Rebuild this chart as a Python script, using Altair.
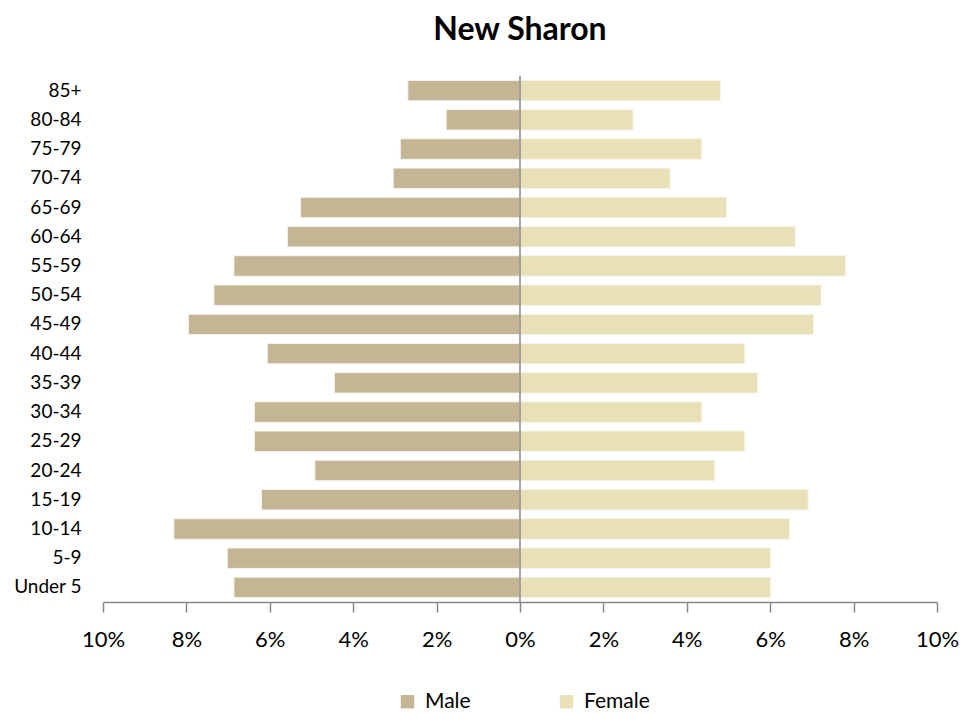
import altair as alt
import pandas as pd

ages = ["85+", "80-84", "75-79", "70-74", "65-69", "60-64", "55-59", "50-54", "45-49",
        "40-44", "35-39", "30-34", "25-29", "20-24", "15-19", "10-14", "5-9", "Under 5"]
male = [2.69, 1.77, 2.87, 3.04, 5.26, 5.58, 6.86, 7.34, 7.95,
        6.06, 4.45, 6.37, 6.37, 4.92, 6.20, 8.30, 7.02, 6.86]
female = [4.81, 2.71, 4.36, 3.60, 4.95, 6.60, 7.81, 7.22, 7.04,
          5.39, 5.70, 4.36, 5.39, 4.67, 6.91, 6.46, 6.01, 6.01]
x_ticks = [-10, -8, -6, -4, -2, 0, 2, 4, 6, 8, 10]

rows = []
for a, m, f in zip(ages, male, female):
    rows.append({"age": a, "sex": "Male", "value": -m})
    rows.append({"age": a, "sex": "Female", "value": f})
df = pd.DataFrame(rows)

FONT = "Lato"

bars = alt.Chart(df).mark_bar(stroke="#f7f4ea", strokeWidth=1).encode(
    y=alt.Y("age:N", sort=ages, title=None,
            scale=alt.Scale(paddingInner=0.3, paddingOuter=0.15),
            axis=alt.Axis(domain=False, ticks=False, labelFontSize=19, labelFont=FONT,
                          labelColor="#000", labelPadding=22)),
    x=alt.X("value:Q", title=None,
            scale=alt.Scale(domain=[-10, 10], nice=False),
            axis=alt.Axis(values=x_ticks, labelExpr="abs(datum.value) + '%'",
                          grid=False, domainColor="#888", tickColor="#888",
                          tickSize=10, tickWidth=1.5, domainWidth=1.5,
                          labelFontSize=22, labelFont=FONT, labelColor="#000",
                          labelPadding=17, labelFlush=False)),
    color=alt.Color("sex:N", sort=["Male", "Female"],
                    scale=alt.Scale(domain=["Male", "Female"], range=["#C4B595", "#E8E0B6"]),
                    legend=alt.Legend(title=None, orient="none", direction="horizontal",
                                      legendX=294, legendY=615, symbolType="square",
                                      symbolSize=180, symbolStrokeWidth=0,
                                      labelFontSize=21, labelFont=FONT, labelColor="#000",
                                      columnPadding=85, labelOffset=7)),
)

center = alt.Chart(pd.DataFrame({"z": [0]})).mark_rule(color="#888", strokeWidth=1.5).encode(
    x=alt.X("z:Q")
)

chart = alt.layer(bars, center).properties(
    width=834, height=526,
    title=alt.Title("New Sharon", fontSize=32, fontWeight="bold", font=FONT,
                    color="#000", anchor="middle", offset=28),
    autosize=alt.AutoSizeParams(type="none"),
    padding={"left": 95, "top": 68, "right": 34, "bottom": 112},
).configure_view(stroke=None)

chart.save("out.html", embed_options={"renderer": "svg", "actions": False})
